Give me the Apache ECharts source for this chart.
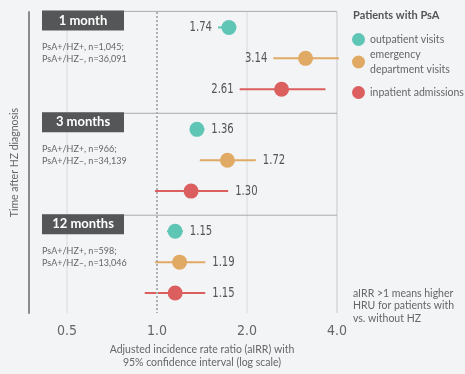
<!DOCTYPE html>
<html>
<head>
<meta charset="utf-8">
<script src="https://cdn.jsdelivr.net/npm/echarts@6/dist/echarts.min.js"></script>
<style>
  html, body { margin: 0; padding: 0; background: #f3f4f6; }
  #chart { width: 465px; height: 374px; }
</style>
</head>
<body>
<div id="chart"></div>
<script>
// Follow-up periods after HZ diagnosis and the cohort sizes of each
const periods = ['1 month', '3 months', '12 months'];
const cohortNotes = [
  ['PsA+/HZ+, n=1,045;', 'PsA+/HZ\u2013, n=36,091'],
  ['PsA+/HZ+, n=966;', 'PsA+/HZ\u2013, n=34,139'],
  ['PsA+/HZ+, n=598;', 'PsA+/HZ\u2013, n=13,046']
];

// Healthcare resource use categories
const visitTypes = ['outpatient visits', 'emergency department visits', 'inpatient admissions'];

// aIRR point estimates and 95% CI bounds, one value per period
const outpatientEst  = [1.74, 1.36, 1.15];
const outpatientLow  = [1.60, 1.29, 1.08];
const outpatientHigh = [1.84, 1.44, 1.22];

const emergencyEst   = [3.14, 1.72, 1.19];
const emergencyLow   = [2.45, 1.39, 0.985];
const emergencyHigh  = [4.06, 2.14, 1.45];

const inpatientEst   = [2.61, 1.30, 1.15];
const inpatientLow   = [1.89, 0.985, 0.91];
const inpatientHigh  = [3.66, 1.73, 1.45];

// Log-scale ticks on the ratio axis
const xTicks = [0.5, 1.0, 2.0, 4.0];

// Styling
const COLORS = ['#5fc5b5', '#e0a964', '#dc5f60'];
const labelSideByPeriod = ['left', 'right', 'right'];
const GROUP_STEP = 3.3;      // vertical distance between period panels (row units)
const PANEL_OFFSET = -0.52;  // panel header line above the first row
const NUM_FONT = '"Liberation Sans Narrow", "DejaVu Sans Condensed", Roboto, sans-serif';
const TXT_FONT = 'Lato, "Open Sans", sans-serif';
const NUM_SQUEEZE = 0.8;     // horizontal squeeze for the numeric labels

const rowPos = (periodIdx, typeIdx) => periodIdx * GROUP_STEP + typeIdx;

const seriesValues = [
  [outpatientEst, outpatientLow, outpatientHigh],
  [emergencyEst, emergencyLow, emergencyHigh],
  [inpatientEst, inpatientLow, inpatientHigh]
];

function makeForestItem(color) {
  return function (params, api) {
    const est = api.value(0), y = api.value(1), lo = api.value(2), hi = api.value(3);
    const p = api.coord([est, y]);
    const pLo = api.coord([lo, y]);
    const pHi = api.coord([hi, y]);
    const side = labelSideByPeriod[params.dataIndex];
    const tx = side === 'left' ? pLo[0] - 6 : pHi[0] + 7;
    return {
      type: 'group',
      children: [
        { type: 'line', shape: { x1: pLo[0], y1: p[1], x2: pHi[0], y2: p[1] },
          style: { stroke: color, lineWidth: 2 } },
        { type: 'circle', shape: { cx: p[0], cy: p[1], r: 7.5 }, style: { fill: color } },
        { type: 'text', x: tx, y: p[1], scaleX: NUM_SQUEEZE,
          style: { text: est.toFixed(2), fill: '#555', font: '14px ' + NUM_FONT,
                   align: side === 'left' ? 'right' : 'left', verticalAlign: 'middle' } }
      ]
    };
  };
}

function panelItem(params, api) {
  const i = params.dataIndex;
  const top = api.coord([1, i * GROUP_STEP + PANEL_OFFSET])[1];
  const right = api.coord([xTicks[xTicks.length - 1], 0])[0];
  return {
    type: 'group',
    children: [
      { type: 'line', shape: { x1: 42, y1: top, x2: right, y2: top },
        style: { stroke: '#a8aaad', lineWidth: 1 } },
      { type: 'rect', shape: { x: 42, y: top - 1, width: 82, height: 20 },
        style: { fill: '#555658' } },
      { type: 'text', x: 83, y: top + 9,
        style: { text: periods[i], fill: '#fff', font: 'bold 13px ' + TXT_FONT,
                 align: 'center', verticalAlign: 'middle' } },
      { type: 'text', x: 42, y: top + 30,
        style: { text: cohortNotes[i].join('\n'), fill: '#666', font: '9px ' + TXT_FONT,
                 lineHeight: 12, align: 'left', verticalAlign: 'top' } }
    ]
  };
}

const series = [{
  type: 'custom',
  name: 'panels',
  renderItem: panelItem,
  silent: true,
  z: 1,
  data: periods.map((p, i) => [1, i * GROUP_STEP]),
  markLine: {
    silent: true,
    symbol: 'none',
    label: { show: false },
    lineStyle: { type: 'dotted', color: '#aeb0b3', width: 2 },
    data: [{ xAxis: 1 }]
  }
}];

visitTypes.forEach((name, t) => {
  const [est, lo, hi] = seriesValues[t];
  series.push({
    type: 'custom',
    name: name,
    z: 3,
    itemStyle: { color: COLORS[t] },
    renderItem: makeForestItem(COLORS[t]),
    encode: { x: 0, y: 1 },
    data: periods.map((p, i) => [est[i], rowPos(i, t), lo[i], hi[i]])
  });
});

// One legend per category so each entry can sit at its own height
const legendTops = [32, 47, 85];
const legends = visitTypes.map((name, t) => ({
  left: 352,
  top: legendTops[t],
  padding: 0,
  orient: 'vertical',
  itemWidth: 13,
  itemHeight: 14,
  selectedMode: false,
  formatter: n => n === 'emergency department visits' ? 'emergency\ndepartment visits' : n,
  textStyle: { color: '#666', fontSize: 10.5, fontFamily: TXT_FONT, lineHeight: 15 },
  data: [{ name: name, icon: 'circle', itemStyle: { color: COLORS[t] } }]
}));

const chart = echarts.init(document.getElementById('chart'), null, { renderer: 'canvas' });
chart.setOption({
  backgroundColor: '#f3f4f6',
  animation: false,
  title: [
    { text: 'Patients with PsA', left: 353, top: 10, padding: 0,
      textStyle: { color: '#555', fontSize: 11, fontWeight: 'bold', fontFamily: TXT_FONT } },
    { text: 'aIRR >1 means higher\nHRU for patients with\nvs. without HZ', left: 353, top: 287, padding: 0,
      textStyle: { color: '#666', fontSize: 10.5, fontWeight: 'normal', lineHeight: 12.5, fontFamily: TXT_FONT } }
  ],
  legend: legends,
  grid: { left: 67, right: 128, top: 12, bottom: 50, containLabel: false },
  xAxis: {
    type: 'log',
    logBase: 2,
    min: xTicks[0],
    max: xTicks[xTicks.length - 1],
    axisLine: { show: false },
    axisTick: { show: false },
    axisLabel: { color: '#666', fontSize: 14, fontFamily: NUM_FONT, margin: 11,
                 formatter: v => Number(v).toFixed(1) },
    splitLine: { show: true, lineStyle: { color: ['#e1e3e6', 'rgba(0,0,0,0)', '#e1e3e6', '#d5d7da'], width: 1.5 } },
    name: 'Adjusted incidence rate ratio (aIRR) with\n95% confidence interval (log scale)',
    nameLocation: 'middle',
    nameGap: 26,
    nameTextStyle: { color: '#666', fontSize: 10.5, lineHeight: 13, fontFamily: TXT_FONT, verticalAlign: 'top' }
  },
  yAxis: {
    type: 'value',
    inverse: true,
    min: -0.5,
    max: 9.25,
    offset: 38,
    axisLine: { show: true, lineStyle: { color: '#8a8b8d', width: 2 } },
    axisTick: { show: false },
    axisLabel: { show: false },
    splitLine: { show: false },
    name: 'Time after HZ diagnosis',
    nameLocation: 'middle',
    nameGap: 9,
    nameRotate: 90,
    nameTextStyle: { color: '#666', fontSize: 10.5, fontFamily: TXT_FONT }
  },
  series: series
});
</script>
</body>
</html>
